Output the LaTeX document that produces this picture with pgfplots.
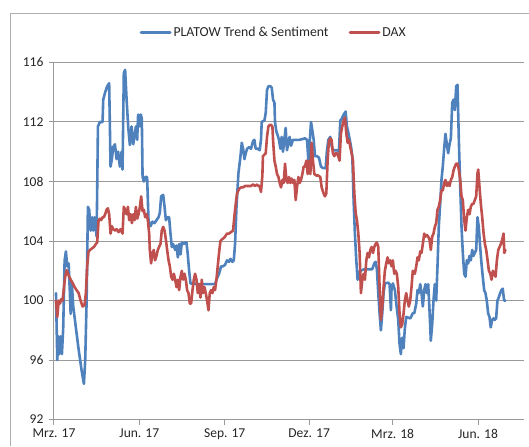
\documentclass[border=0pt]{standalone}
\usepackage{fontspec}
\setmainfont{Carlito}
\usepackage{pgfplots}
\pgfplotsset{compat=1.18}
\definecolor{platow}{HTML}{4F81BD}
\definecolor{dax}{HTML}{C0504D}
\definecolor{gridc}{HTML}{9A9A9A}
\begin{document}
\begin{tikzpicture}
\path (-54bp,-26bp) rectangle (475bp,420bp);
\draw[gridc!80, line width=1bp, line cap=butt] (-43.5bp,-26bp) -- (-43.5bp,406.5bp) -- (475bp,406.5bp);
\begin{axis}[
  anchor=south west,
  scale only axis, width=470bp, height=357.5bp,
  xmin=0, xmax=506, ymin=92, ymax=116,
  axis x line*=bottom, axis y line*=left,
  axis line style={gridc, line width=1bp, -},
  xtick={0,92,184,275,365,457},
  xticklabels={Mrz. 17,Jun. 17,Sep. 17,Dez. 17,Mrz. 18,Jun. 18},
  ytick={92,96,100,104,108,112,116},
  ymajorgrids, grid style={gridc, line width=1bp},
  tick align=outside, major tick length=5bp,
  tick style={gridc, line width=1bp},
  tick label style={font=\fontsize{13.6}{15}\selectfont, text=black!85},
  /pgf/number format/assume math mode=true,
  yticklabel style={xshift=-2bp},
  xticklabel style={yshift=-1bp},
  legend style={draw=none, fill=none, at={(0.468,1.0825)}, anchor=center,
    font=\fontsize{13.8}{15}\selectfont, text=black!85,
    /tikz/every even column/.append style={column sep=18bp},
    inner sep=0pt},
  legend columns=2,
  legend cell align=left,
  legend image code/.code={\draw[#1, line width=3bp] (0bp,0bp) -- (29bp,0bp);},
  every axis plot/.append style={line width=2.6bp, line join=round, line cap=round},
]
\addplot[platow] table {
2.2 100.5
3.6 96.0
4.6 97.6
5.7 96.4
7.2 97.6
8.6 96.4
10.0 98.2
11.5 102.7
12.9 103.3
14.3 102.3
15.8 102.5
17.2 100.5
18.0 99.1
19.1 101.3
20.8 99.6
22.6 98.7
26.2 96.9
29.8 95.3
32.3 94.4
33.7 96.0
35.2 100.0
36.6 106.3
38.0 106.1
39.5 104.7
40.9 105.6
42.3 104.7
43.8 105.6
46.0 104.3
47.4 111.7
49.5 112.0
52.4 112.0
53.1 113.5
55.2 114.0
57.4 114.4
59.5 114.6
61.0 109.0
62.4 109.5
63.8 110.3
65.7 110.5
67.5 109.5
69.2 110.0
71.0 109.0
72.9 110.0
73.9 108.8
75.3 115.3
76.7 115.5
78.3 113.5
80.0 111.7
81.8 110.45
83.6 111.7
85.4 110.5
87.2 111.2
88.3 111.7
89.7 110.8
90.7 112.5
92.6 111.7
93.6 112.5
94.7 112.2
95.5 108.3
96.9 108.0
98.3 108.3
100.4 108.3
101.9 105.4
104.1 105.0
106.2 105.3
108.4 105.2
110.5 105.4
112.7 105.6
114.1 105.9
115.5 107.0
117.7 107.1
119.2 106.3
120.6 105.4
122.7 105.6
124.1 105.6
125.6 104.5
127.0 103.6
128.4 103.8
130.6 103.4
132.1 103.7
133.5 102.9
134.9 103.8
136.4 103.1
137.8 103.9
139.9 103.8
141.3 103.9
142.8 103.9
144.2 103.1
145.6 102.05
147.1 101.15
157.2 101.1
173.6 101.1
175.1 101.4
177.9 101.8
180.1 102.3
182.2 102.3
184.4 102.4
186.5 102.7
188.7 102.6
190.2 102.8
192.4 102.6
193.8 102.7
195.2 103.85
196.7 106.3
198.8 108.55
201.0 109.7
202.4 110.6
203.8 110.2
205.3 109.5
206.7 109.9
208.1 110.2
210.2 110.3
212.4 110.2
214.5 110.7
216.0 110.8
217.4 110.2
219.6 110.2
221.7 110.1
223.1 110.8
223.9 112.0
226.8 112.1
228.2 112.6
229.6 114.15
231.1 114.4
233.3 114.4
234.7 114.3
236.1 113.5
237.6 113.3
238.2 112.0
239.7 111.35
241.1 111.1
242.5 110.8
244.0 110.2
245.4 111.0
246.8 110.0
248.3 110.8
249.7 111.6
251.1 110.1
252.6 110.6
254.0 111.0
255.4 110.4
257.6 110.8
264.8 110.8
270.5 110.9
272.7 110.8
274.2 109.4
275.6 110.6
277.0 112.0
278.5 111.4
279.9 110.8
281.3 109.7
283.4 109.7
285.6 109.6
287.7 109.0
289.9 108.9
292.8 108.9
294.2 110.1
295.7 110.8
297.8 111.0
299.2 110.4
300.6 110.1
302.8 110.1
305.7 110.1
307.1 110.0
308.6 112.1
310.0 112.2
312.2 112.5
314.3 112.7
315.7 111.7
317.2 111.3
318.6 110.85
320.0 110.4
321.5 109.7
322.9 106.75
324.3 104.5
325.8 102.7
327.2 101.4
328.6 101.8
330.1 102.0
334.4 102.1
340.1 102.1
343.0 102.1
345.2 102.5
346.6 102.6
348.0 102.1
349.5 100.5
350.9 99.15
352.3 98.0
353.8 99.15
355.2 100.5
356.6 101.15
360.3 101.2
361.7 101.1
363.1 99.35
363.8 100.9
365.2 101.15
367.4 100.7
368.9 99.8
371.0 98.7
372.4 97.1
373.8 96.4
375.3 97.5
376.7 96.8
378.1 98.1
379.6 98.9
384.0 98.8
386.7 99.15
388.3 99.15
390.4 99.8
391.8 100.7
393.2 100.5
394.7 101.1
396.1 100.5
397.5 99.6
399.0 100.7
400.4 101.1
401.8 100.5
403.3 101.1
404.7 99.35
406.1 97.3
407.6 98.4
409.0 100.0
410.4 101.1
411.9 100.0
413.3 102.3
414.7 104.95
416.2 106.5
417.6 108.1
419.0 109.0
420.6 110.3
421.9 111.2
423.4 110.5
424.8 109.9
426.3 110.5
427.7 110.9
429.2 113.3
430.6 113.5
432.0 112.8
433.5 114.4
434.9 114.5
436.3 110.8
437.8 107.65
439.2 104.95
440.6 103.2
442.1 101.8
443.5 101.6
444.9 102.7
446.4 102.5
447.8 103.0
449.2 102.7
450.7 103.4
452.1 103.0
453.5 103.2
455.0 103.4
456.4 105.6
457.8 104.95
459.3 103.6
460.7 102.5
462.1 101.6
463.6 100.7
465.0 100.5
466.4 100.0
467.9 99.15
469.3 98.9
470.7 98.2
472.2 98.7
473.6 98.8
475.0 98.7
476.5 98.8
477.9 100.0
479.3 100.2
480.8 100.5
482.2 100.7
483.6 100.8
485.1 100.0
486.5 100.0
};
\addlegendentry{PLATOW Trend \& Sentiment}
\addplot[dax] table {
2.2 100.0
3.6 98.9
5.1 100.0
6.5 99.8
7.9 100.1
9.4 100.0
10.8 100.9
12.1 101.6
13.7 102.05
15.1 101.8
16.5 101.6
18.0 101.4
20.8 101.1
22.3 100.9
24.4 100.7
26.6 100.5
28.7 100.0
30.9 99.6
33.0 99.7
34.4 100.5
35.8 102.3
37.3 103.3
38.8 103.4
40.9 103.5
43.1 103.6
45.2 103.8
46.6 103.9
48.1 105.4
49.5 105.5
50.9 105.4
52.4 105.6
53.8 105.6
55.2 105.8
56.7 106.1
58.1 106.2
59.5 105.8
61.0 104.5
62.4 105.0
63.8 104.8
66.0 104.7
67.5 104.8
69.6 104.6
71.8 104.8
73.9 104.5
75.3 106.3
76.7 106.1
78.3 105.8
79.7 106.3
81.1 105.4
82.6 105.8
84.0 105.2
85.4 105.8
86.9 105.4
88.3 106.3
89.7 105.5
91.2 105.8
92.6 106.3
94.0 107.0
95.5 106.0
96.9 106.1
98.3 105.6
99.8 105.8
101.2 105.4
102.6 104.5
103.3 103.4
104.7 102.5
106.2 103.2
107.6 103.4
109.0 102.7
110.5 103.0
111.9 103.4
113.3 103.6
114.8 103.8
116.2 104.7
117.7 104.95
119.2 104.7
120.6 104.1
122.0 103.4
123.5 102.7
124.9 102.3
126.3 101.6
127.8 101.4
129.2 101.8
130.6 101.4
132.1 100.9
133.5 101.4
134.9 100.7
136.4 101.6
137.8 102.0
139.2 101.4
140.7 101.8
142.1 101.4
143.5 100.7
145.0 100.5
146.4 99.8
147.8 99.8
149.3 100.7
150.7 101.4
152.1 101.8
153.6 101.4
155.0 100.5
156.4 101.1
157.9 100.2
159.3 101.4
160.7 100.5
162.2 100.9
163.6 100.5
165.0 100.0
166.5 99.35
167.9 100.5
169.3 100.7
170.8 100.5
172.2 100.9
173.6 100.7
175.1 101.4
176.5 102.3
177.9 103.2
179.4 104.0
180.8 104.1
183.0 104.2
184.4 104.3
186.5 104.5
188.7 104.5
190.8 104.6
193.0 104.7
194.5 105.7
195.9 106.5
197.3 107.2
199.5 107.5
201.6 107.6
203.8 107.6
205.9 107.7
208.1 107.7
210.2 107.7
212.4 107.7
214.5 107.8
216.7 107.7
218.8 107.8
220.3 107.7
221.7 107.7
223.1 107.3
224.6 108.4
225.2 109.7
226.8 109.8
228.2 109.9
229.6 111.0
231.1 111.7
232.5 111.8
233.9 111.8
235.4 111.7
236.1 110.8
237.6 109.4
239.0 109.0
240.4 108.5
241.9 108.3
243.3 107.9
244.7 107.6
246.2 108.1
247.6 107.9
249.0 109.2
250.5 108.1
251.9 107.9
253.3 108.3
254.8 107.9
256.2 108.2
257.6 107.9
259.1 108.1
260.5 106.75
261.9 107.6
263.4 108.3
264.8 107.9
266.2 108.1
267.7 108.5
269.1 109.0
270.5 109.0
272.0 109.4
273.4 108.5
274.8 109.4
276.3 108.5
277.7 110.6
279.1 109.4
280.6 108.5
282.7 108.4
284.9 108.4
287.0 108.3
288.5 107.6
290.6 107.2
292.0 107.0
293.5 107.2
294.9 109.4
296.3 110.7
297.8 110.9
299.2 110.8
300.6 109.9
302.1 109.7
303.5 109.9
304.9 109.9
306.4 109.7
307.8 109.4
309.2 111.2
310.7 111.7
312.2 112.1
313.6 112.3
315.1 111.2
316.5 110.6
317.9 110.8
319.4 110.3
320.8 109.9
322.2 109.4
323.7 107.2
325.1 105.9
326.5 105.4
328.0 104.5
329.4 103.2
330.8 100.5
332.3 101.4
333.7 101.8
335.1 101.4
336.6 102.7
338.0 103.2
339.5 102.9
340.9 103.4
342.3 103.6
343.8 103.2
345.2 103.6
346.6 103.8
348.0 103.9
349.5 103.6
350.9 100.9
352.3 98.7
353.8 99.6
355.2 100.9
356.6 102.0
358.1 102.5
359.5 102.9
360.9 102.5
362.4 102.7
363.8 102.3
365.2 102.7
366.7 101.8
368.1 102.0
369.5 101.8
371.0 100.9
372.4 99.15
373.8 98.2
375.3 98.4
376.7 99.1
378.1 100.0
379.6 100.5
381.0 100.0
382.4 99.6
383.9 100.0
385.3 100.9
386.7 102.0
388.9 101.8
390.4 102.3
391.8 102.9
393.2 102.7
394.7 103.3
396.1 103.2
397.5 103.8
399.0 104.5
400.4 104.3
401.8 104.4
403.3 104.3
404.7 104.1
406.1 103.4
407.6 104.3
409.0 104.5
410.4 104.95
411.9 105.2
413.3 106.1
414.7 106.3
416.2 106.75
417.6 107.4
419.0 107.4
420.6 107.9
421.9 108.1
423.4 107.7
424.8 107.9
426.3 107.7
427.7 108.1
429.2 108.3
430.6 108.75
432.0 109.0
433.5 109.2
434.9 109.2
436.3 108.8
437.8 108.1
439.2 107.0
440.6 106.75
442.1 105.4
443.5 104.7
444.9 105.6
446.4 106.1
447.8 105.8
449.2 106.3
450.7 106.5
452.1 106.5
453.5 106.75
455.0 107.0
456.4 108.55
457.2 108.8
458.6 107.6
460.0 106.5
461.5 105.6
463.0 104.5
464.4 103.8
465.8 103.4
467.3 102.7
468.7 102.0
470.2 101.8
471.6 101.4
473.0 102.0
474.5 101.8
475.9 101.6
477.3 102.7
478.8 103.4
480.2 103.6
481.6 103.8
483.1 104.1
484.5 104.5
485.3 103.2
486.5 103.4
};
\addlegendentry{DAX}
\end{axis}
\end{tikzpicture}
\end{document}
